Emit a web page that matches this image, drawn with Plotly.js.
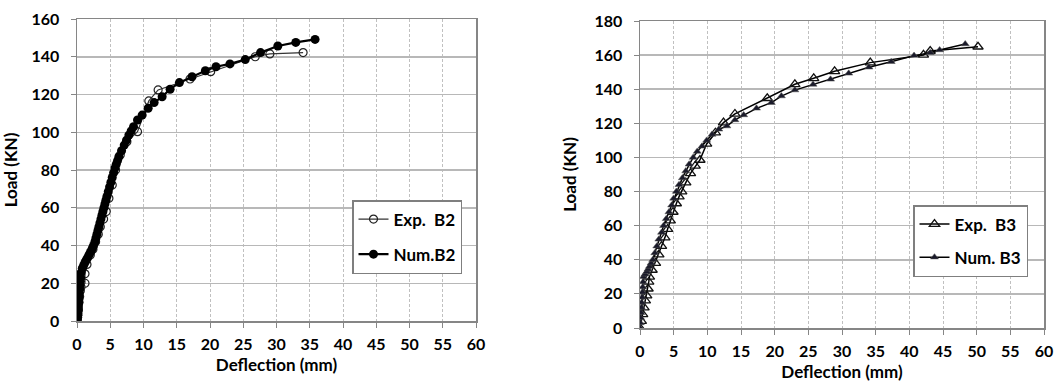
<!DOCTYPE html>
<html>
<head>
<meta charset="utf-8">
<script src="https://cdn.plot.ly/plotly-3.0.1.min.js"></script>
<style>
html,body{margin:0;padding:0;background:#fff;}
#chart{width:1062px;height:389px;}
</style>
</head>
<body>
<div id="chart"></div>
<script>
// ---- B2 data (Deflection mm, Load kN) ----
var expB2_d = [0, 0.1, 0.2, 0.3, 0.4, 0.5, 0.6, 1.2, 1.2, 1.5, 2.0, 2.4, 2.8, 3.2, 3.5, 4.0, 4.4, 4.8, 5.3, 5.8, 6.5, 7.5, 9.1, 10.8, 12.2, 17.0, 20.1, 26.8, 29.0, 34.0];
var expB2_L = [0, 3, 6, 10, 13, 16, 18, 20, 25, 30, 35, 38, 42, 46, 50, 54, 58, 65, 72, 80, 88, 95, 100.3, 116.6, 122.4, 128.2, 132.1, 140, 141.5, 142.2];

var numB2_d = [0, 0.05, 0.1, 0.12, 0.15, 0.18, 0.2, 0.22, 0.25, 0.28, 0.3, 0.35, 0.4, 0.45, 0.5, 0.55, 0.6, 0.8, 1.0, 1.2, 1.4, 1.6, 1.8, 2.0, 2.2, 2.35, 2.5, 2.7, 2.85, 3.0, 3.15, 3.3, 3.45, 3.6, 3.75, 3.9, 4.05, 4.2, 4.35, 4.5, 4.7, 4.9, 5.1, 5.3, 5.5, 5.7, 5.9, 6.1, 6.3, 6.7, 7.1, 7.45, 7.8, 8.15, 8.5, 9.1, 9.8, 10.7, 11.6, 12.8, 14.0, 15.4, 17.3, 19.3, 20.9, 23.0, 25.3, 27.6, 30.2, 32.9, 35.8];
var numB2_L = [0, 1, 2, 3, 4, 5.5, 7, 8.5, 10, 11.5, 13, 15, 17, 19, 21, 23, 25.5, 28, 29.5, 31, 32.3, 33.5, 35, 36.3, 37.6, 38.8, 40, 42, 44, 46, 48, 50, 52, 54, 56, 58, 60, 62, 64, 66, 68.5, 71, 73.5, 76, 78.5, 81, 83, 85, 87, 90.2, 93.2, 95.8, 98.5, 100.7, 102.9, 106.5, 109.1, 112.7, 115.7, 118.8, 122.8, 126.3, 129.4, 132.6, 134.7, 136.2, 138.5, 142.2, 145.7, 147.6, 149.2];

// ---- B3 data ----
var expB3_d = [0, 0.2, 0.4, 0.6, 0.8, 1.0, 1.2, 1.3, 1.4, 1.8, 2.3, 2.8, 3.2, 3.7, 4.1, 4.5, 4.9, 5.4, 5.8, 6.2, 6.8, 7.5, 8.2, 8.9, 9.9, 11.2, 12.4, 14.1, 18.9, 23.0, 25.8, 28.9, 34.2, 42.1, 43.1, 50.2];
var expB3_L = [0, 4, 8, 12, 16, 19, 23, 27, 30, 34, 38, 43, 48, 53, 58, 63, 68, 73, 77, 80, 85.2, 90.7, 95, 98.5, 107.9, 114.5, 120.4, 125.5, 134.7, 142.9, 146.4, 150.5, 155.6, 160.1, 162.4, 164.9];

var numB3_d = [0, 0.05, 0.1, 0.15, 0.2, 0.25, 0.3, 0.35, 0.4, 0.45, 0.5, 0.75, 1.0, 1.2, 1.4, 1.65, 1.9, 2.2, 2.5, 2.8, 3.2, 3.5, 3.9, 4.3, 4.7, 5.0, 5.4, 5.8, 6.3, 6.8, 7.3, 7.9, 8.5, 9.2, 9.9, 10.7, 11.7, 12.9, 14.1, 15.4, 17.3, 19.5, 21.0, 23.0, 25.7, 28.3, 31.0, 34.0, 37.3, 40.7, 43.1, 44.5, 48.3];
var numB3_L = [0, 3, 6, 9, 12, 15, 18, 21, 24, 27, 30, 31.5, 33, 34.5, 36, 38, 40, 44, 48, 52, 56, 60, 64, 68, 72, 76, 80, 84, 88, 92, 96, 100, 103.5, 106.5, 110, 113.5, 116.5, 118.4, 122, 124.9, 128.8, 132.1, 136, 139.5, 142.8, 145.8, 149.3, 152.9, 156.1, 159.7, 161.4, 163, 166.5];

var xTicks = [0, 5, 10, 15, 20, 25, 30, 35, 40, 45, 50, 55, 60];
var yTicksB2 = [0, 20, 40, 60, 80, 100, 120, 140, 160];
var yTicksB3 = [0, 20, 40, 60, 80, 100, 120, 140, 160, 180];

var FONT = 'Lato, "Open Sans", sans-serif';

var traces = [
  {x: expB2_d, y: expB2_L, name: 'Exp.\u00a0 B2', mode: 'lines+markers', xaxis: 'x', yaxis: 'y', legend: 'legend', legendgroup: 'a',
   line: {color: '#333', width: 1.2},
   marker: {symbol: 'circle-open', size: 8, color: '#222', line: {width: 1.2}}},
  {x: numB2_d, y: numB2_L, name: 'Num.B2', mode: 'lines+markers', xaxis: 'x', yaxis: 'y', legend: 'legend', legendgroup: 'b',
   line: {color: '#000', width: 2.2},
   marker: {symbol: 'circle', size: 9, color: '#000'}},
  {x: expB3_d, y: expB3_L, name: 'Exp.\u00a0 B3', mode: 'lines+markers', xaxis: 'x2', yaxis: 'y2', legend: 'legend2', legendgroup: 'c',
   line: {color: '#000', width: 1.5},
   marker: {symbol: 'triangle-up-open', size: 9, color: '#111', line: {width: 1.3}}},
  {x: numB3_d, y: numB3_L, name: 'Num. B3', mode: 'lines+markers', xaxis: 'x2', yaxis: 'y2', legend: 'legend2', legendgroup: 'd',
   line: {color: '#000', width: 1.5},
   marker: {symbol: 'triangle-up', size: 7, color: '#1a1a2a', line: {color: '#555', width: 0.5}}}
];

function xAxis(domain, anchor) {
  return {
    domain: domain, anchor: anchor, range: [0, 60], tickvals: xTicks, ticktext: xTicks.map(String),
    showgrid: true, gridcolor: '#c0c0c0', gridwidth: 1, griddash: '3px,2px',
    showline: true, mirror: true, linecolor: '#868686', linewidth: 1.5,
    ticks: 'outside', ticklen: 5, tickcolor: '#868686', zeroline: false, ticklabelstandoff: 3,
    tickfont: {family: FONT, size: 16, color: '#000', weight: 'bold'},
    title: {text: 'Deflection (mm)', standoff: 7, font: {family: FONT, size: 17, color: '#000', weight: 'bold'}},
    automargin: false
  };
}
function yAxis(domain, anchor, rng, ticks) {
  return {
    domain: domain, anchor: anchor, range: rng, tickvals: ticks, ticktext: ticks.map(String),
    showgrid: true, gridcolor: '#b8b8b8', gridwidth: 1.5,
    showline: true, mirror: true, linecolor: '#868686', linewidth: 1.5,
    ticks: 'outside', ticklen: 5, tickcolor: '#868686', zeroline: false, ticklabelstandoff: 8,
    tickfont: {family: FONT, size: 16, color: '#000', weight: 'bold'},
    title: {text: 'Load (KN)', standoff: 13, font: {family: FONT, size: 17, color: '#000', weight: 'bold'}},
    automargin: false
  };
}

var W = 1062, H = 389;
var legendFont = {family: FONT, size: 17, color: '#000', weight: 'bold'};
var layout = {
  width: W, height: H,
  margin: {l: 0, r: 0, t: 0, b: 0},
  paper_bgcolor: '#fff', plot_bgcolor: '#fff',
  showlegend: true,
  xaxis: xAxis([77 / W, 476 / W], 'y'),
  yaxis: yAxis([1 - 321 / H, 1 - 19 / H], 'x', [0, 160], yTicksB2),
  xaxis2: xAxis([640 / W, 1044 / W], 'y2'),
  yaxis2: yAxis([1 - 328 / H, 1 - 21 / H], 'x2', [0, 180], yTicksB3),
  legend: {x: 462 / W, y: 1 - 200 / H, xanchor: 'right', yanchor: 'top', bgcolor: '#fff',
           bordercolor: '#7f7f7f', borderwidth: 1.5, itemwidth: 30, tracegroupgap: 10,
           font: legendFont},
  legend2: {x: 1028 / W, y: 1 - 205 / H, xanchor: 'right', yanchor: 'top', bgcolor: '#fff',
            bordercolor: '#7f7f7f', borderwidth: 1.5, itemwidth: 30, tracegroupgap: 8,
            font: legendFont}
};

Plotly.newPlot('chart', traces, layout, {staticPlot: true, displayModeBar: false});
</script>
</body>
</html>
